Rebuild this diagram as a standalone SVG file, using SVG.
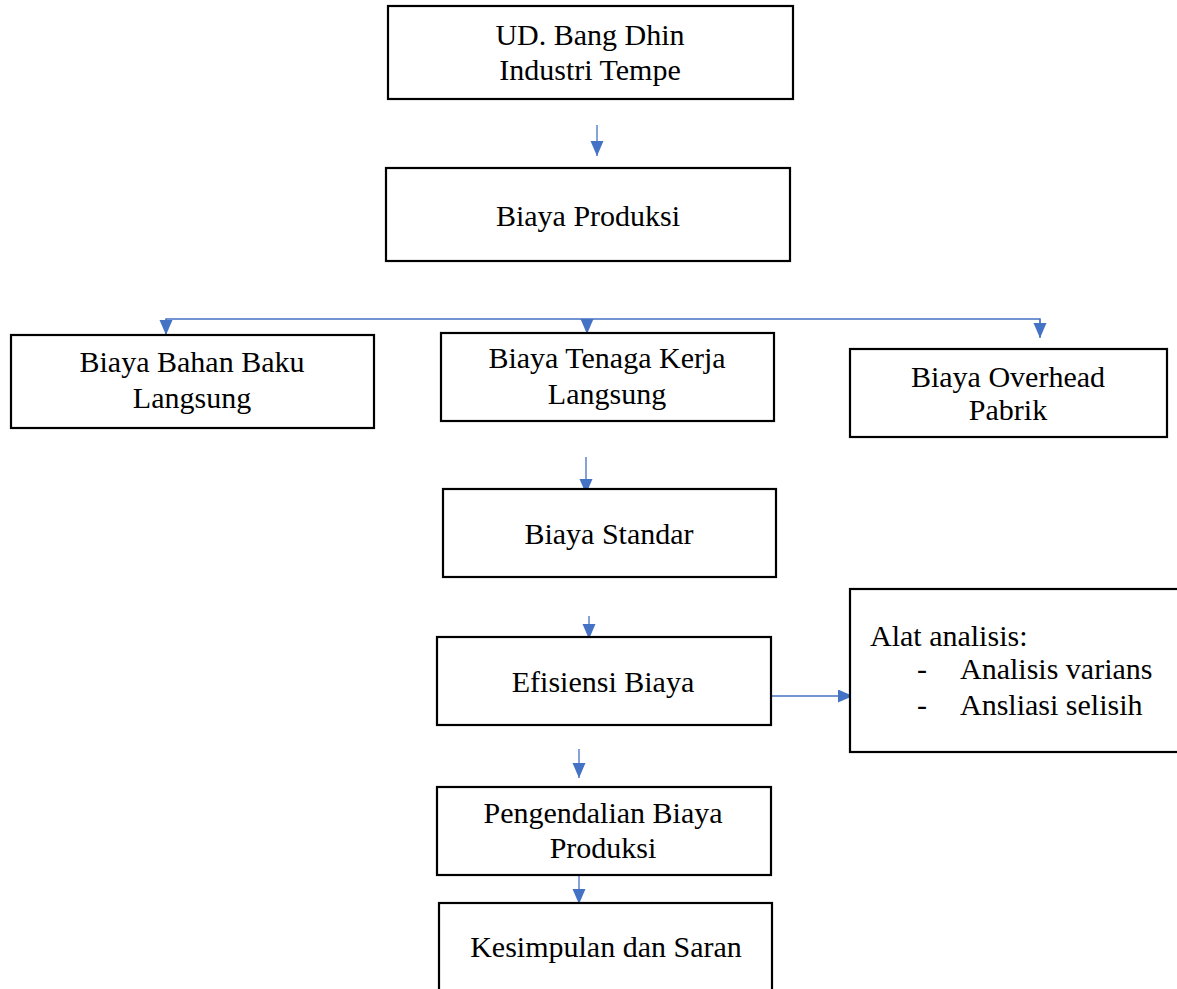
<svg xmlns="http://www.w3.org/2000/svg" width="1177" height="989" viewBox="0 0 1177 989">
<style>
.box{fill:#fff;stroke:#000;stroke-width:2.2}
.t{font-family:"Liberation Serif","Times New Roman",serif;font-size:30px;fill:#000}
.c{text-anchor:middle}
.ln{fill:none;stroke:#4472C4;stroke-width:1.3}
</style>
<defs>
<marker id="ah" markerUnits="userSpaceOnUse" markerWidth="15" markerHeight="14" refX="15" refY="6.5" orient="auto">
<path d="M0,0 L15,6.5 L0,13 Z" fill="#4472C4"/>
</marker>
</defs>
<rect width="1177" height="989" fill="#fff"/>
<g id="connectors">
<line class="ln" x1="597" y1="125" x2="597" y2="156" marker-end="url(#ah)"/>
<polyline class="ln" points="166,335 166,319 1040,319 1040,337"/>
<line class="ln" x1="166" y1="319" x2="166" y2="335" marker-end="url(#ah)"/>
<line class="ln" x1="587" y1="319" x2="587" y2="334" marker-end="url(#ah)"/>
<line class="ln" x1="1040" y1="319" x2="1040" y2="338" marker-end="url(#ah)"/>
<line class="ln" x1="586" y1="457" x2="586" y2="494" marker-end="url(#ah)"/>
<line class="ln" x1="589" y1="616" x2="589" y2="639" marker-end="url(#ah)"/>
<line class="ln" x1="771" y1="696" x2="853" y2="696" marker-end="url(#ah)"/>
<line class="ln" x1="579" y1="749" x2="579" y2="778" marker-end="url(#ah)"/>
<line class="ln" x1="579" y1="875" x2="579" y2="904" marker-end="url(#ah)"/>
</g>
<g id="n1"><rect class="box" x="388" y="6" width="405" height="93"/>
<text class="t c" x="590" y="45">UD. Bang Dhin</text><text class="t c" x="590" y="80">Industri Tempe</text></g>
<g id="n2"><rect class="box" x="386" y="168" width="404" height="93"/>
<text class="t c" x="588" y="226">Biaya Produksi</text></g>
<g id="n3"><rect class="box" x="11" y="335" width="363" height="93"/>
<text class="t c" x="192" y="372">Biaya Bahan Baku</text><text class="t c" x="192" y="408">Langsung</text></g>
<g id="n4"><rect class="box" x="441" y="333" width="333" height="88"/>
<text class="t c" x="607" y="368">Biaya Tenaga Kerja</text><text class="t c" x="607" y="404">Langsung</text></g>
<g id="n5"><rect class="box" x="850" y="349" width="317" height="88"/>
<text class="t c" x="1008" y="387">Biaya Overhead</text><text class="t c" x="1008" y="420">Pabrik</text></g>
<g id="n6"><rect class="box" x="443" y="489" width="333" height="88"/>
<text class="t c" x="609" y="544">Biaya Standar</text></g>
<g id="n7"><rect class="box" x="437" y="637" width="334" height="88"/>
<text class="t c" x="603" y="692">Efisiensi Biaya</text></g>
<g id="n8"><rect class="box" x="850" y="589" width="340" height="163"/>
<text class="t" x="870" y="646">Alat analisis:</text>
<text class="t" x="917" y="679">-</text><text class="t" x="960" y="679">Analisis varians</text>
<text class="t" x="917" y="715">-</text><text class="t" x="960" y="715">Ansliasi selisih</text></g>
<g id="n9"><rect class="box" x="437" y="787" width="334" height="88"/>
<text class="t c" x="603" y="823">Pengendalian Biaya</text><text class="t c" x="603" y="858">Produksi</text></g>
<g id="n10"><rect class="box" x="439" y="903" width="333" height="100"/>
<text class="t c" x="606" y="957">Kesimpulan dan Saran</text></g>
</svg>
